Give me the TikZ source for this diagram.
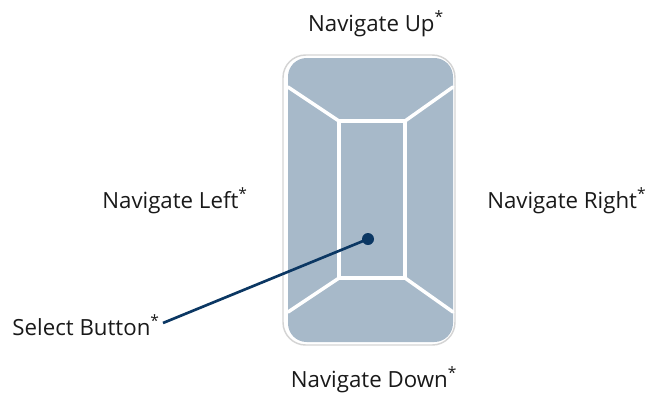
\documentclass[tikz,border=0pt]{standalone}
\usepackage{fontspec}
\setmainfont{Open Sans}
\definecolor{padfill}{HTML}{A7B9C9}
\definecolor{padrim}{HTML}{D4D4D4}
\definecolor{navyline}{HTML}{0B3763}
\begin{document}
\begin{tikzpicture}[x=0.75pt,y=-0.75pt,
  lbl/.style={inner sep=0pt,font=\fontsize{16.7}{20}\selectfont,text=black!90},
  sepline/.style={white,line width=2.6pt,line cap=round}]
\useasboundingbox (0,0) rectangle (651,394);
% outer rim
\draw[padrim,line width=1.1pt,rounded corners=17pt] (283,55) rectangle (455,345);
% pad fill
\fill[padfill,rounded corners=14pt] (288,58) rectangle (453,342);
% inner select rectangle
\coordinate (itl) at (339,121);
\coordinate (itr) at (405,121);
\coordinate (ibl) at (339,278);
\coordinate (ibr) at (405,278);
\draw[sepline] (itl) rectangle (ibr);
\coordinate (otl) at (288,87);
\coordinate (otr) at (453,87);
\coordinate (obl) at (288,312);
\coordinate (obr) at (453,312);
\draw[sepline] (itl) -- (otl);
\draw[sepline] (itr) -- (otr);
\draw[sepline] (ibl) -- (obl);
\draw[sepline] (ibr) -- (obr);
% labels
\node[lbl,anchor=base] (up) at (376,31) {Navigate Up\textsuperscript{*}};
\node[lbl,anchor=base east] (left) at (248,208) {Navigate Left\textsuperscript{*}};
\node[lbl,anchor=base west] (right) at (487,208) {Navigate Right\textsuperscript{*}};
\node[lbl,anchor=base] (down) at (374,387) {Navigate Down\textsuperscript{*}};
\node[lbl,anchor=base east] (select) at (160,335) {Select Button\textsuperscript{*}};
% select pointer
\node[circle,fill=navyline,inner sep=0pt,minimum size=9pt] (dot) at (368,239) {};
\coordinate (tail) at (163,323);
\draw[navyline,line width=2pt] (dot.center) -- (tail);
\end{tikzpicture}
\end{document}
